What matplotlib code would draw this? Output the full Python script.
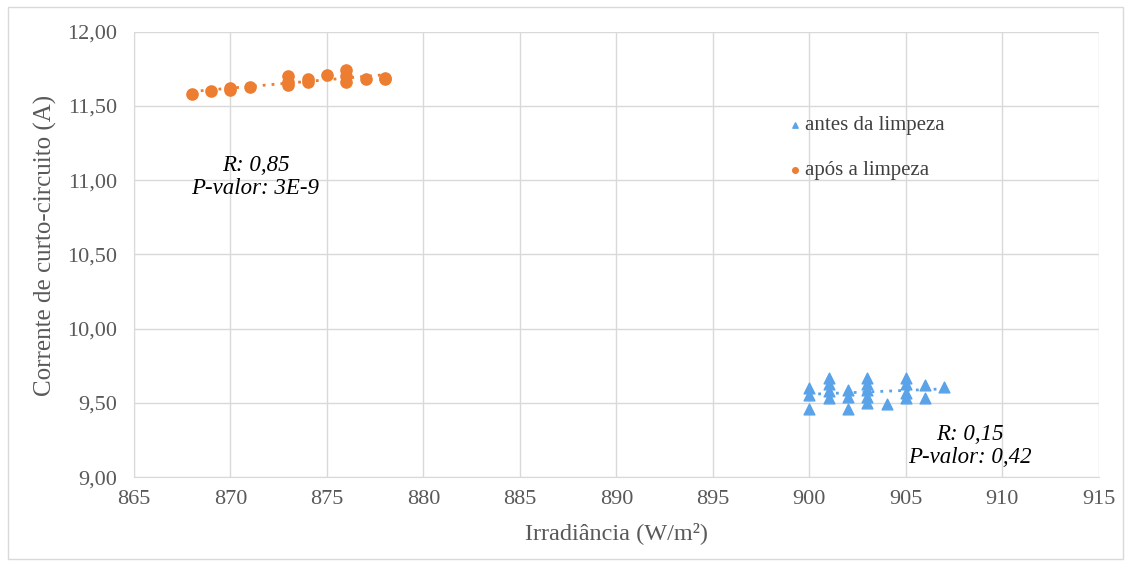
import matplotlib.pyplot as plt
import numpy as np
from matplotlib.ticker import FuncFormatter
from matplotlib.patches import Rectangle

# === DATA ===
# after cleaning (orange)
irr_apos = [868, 869, 870, 870, 871, 873, 873, 873, 874, 874, 875, 876, 876, 876, 877, 878, 878]
isc_apos = [11.58, 11.60, 11.61, 11.62, 11.63, 11.64, 11.66, 11.70, 11.66, 11.68, 11.71, 11.66, 11.70, 11.74, 11.68, 11.68, 11.69]

# before cleaning (blue)
irr_antes = [900, 900, 900, 901, 901, 901, 901, 902, 902, 902,
             903, 903, 903, 903, 903, 904, 905, 905, 905, 905, 906, 906, 907]
isc_antes = [9.60, 9.55, 9.46, 9.67, 9.63, 9.58, 9.53, 9.59, 9.54, 9.46,
             9.67, 9.63, 9.59, 9.54, 9.50, 9.49, 9.67, 9.63, 9.57, 9.53, 9.62, 9.53, 9.61]

stats_apos = ("R: 0,85", "P-valor: 3E-9")
stats_antes = ("R: 0,15", "P-valor: 0,42")

ORANGE = '#ED7D31'
BLUE = '#5BA3E8'
GRID = '#D9D9D9'

plt.rcParams['font.family'] = ['Liberation Serif', 'DejaVu Serif']

fig = plt.figure(figsize=(11.31, 5.68), dpi=100)
ax = fig.add_axes([0.1185, 0.160, 0.853, 0.784])

# chart border
fig.patches.append(Rectangle((0.007, 0.015), 0.986, 0.972, transform=fig.transFigure,
                             fill=False, edgecolor='#D9D9D9', linewidth=1))

ax.scatter(irr_antes, isc_antes, marker='^', s=60, color=BLUE, zorder=3,
           label='antes da limpeza')
ax.scatter(irr_apos, isc_apos, marker='o', s=65, color=ORANGE, zorder=3,
           label='após a limpeza')

# linear trend lines
for xs, ys, c in [(irr_antes, isc_antes, BLUE), (irr_apos, isc_apos, ORANGE)]:
    k, b = np.polyfit(xs, ys, 1)
    xx = np.array([min(xs), max(xs)])
    ax.plot(xx, k * xx + b, linestyle=(0, (1, 2.2)), color=c, linewidth=2, zorder=2)

ax.text(871.3, 11.02, '\n'.join(stats_apos), style='italic', fontsize=16.5,
        ha='center', va='center', linespacing=1.1)
ax.text(908.3, 9.21, '\n'.join(stats_antes), style='italic', fontsize=16.5,
        ha='center', va='center', linespacing=1.1)

ax.set_xlim(865, 915)
ax.set_ylim(9.0, 12.0)
ax.set_xticks(np.arange(865, 916, 5))
ax.set_yticks(np.arange(9.0, 12.01, 0.5))
ax.yaxis.set_major_formatter(FuncFormatter(lambda v, p: f'{v:.2f}'.replace('.', ',')))
ax.tick_params(length=0, labelsize=16, colors='#595959')
ax.tick_params(axis='y', pad=12)
ax.tick_params(axis='x', pad=9)

ax.grid(True, color=GRID, linewidth=1)
ax.set_axisbelow(True)
for side in ['top', 'right']:
    ax.spines[side].set_visible(False)
for side in ['left', 'bottom']:
    ax.spines[side].set_color(GRID)

ax.set_xlabel('Irradiância (W/m²)', fontsize=17.5, color='#595959', labelpad=10)
ax.set_ylabel('Corrente de curto-circuito (A)', fontsize=18, color='#595959', labelpad=5)
ax.yaxis.set_label_coords(-0.092, 0.52)
ax.yaxis.label.set_va('center')

leg = ax.legend(loc='upper left', bbox_to_anchor=(0.67, 0.83), frameon=False,
                fontsize=15, handlelength=0.6, handletextpad=0.2, labelspacing=1.2,
                markerscale=0.5, borderaxespad=0)
for t in leg.get_texts():
    t.set_color('#404040')

fig.savefig('out.png', dpi=100)
